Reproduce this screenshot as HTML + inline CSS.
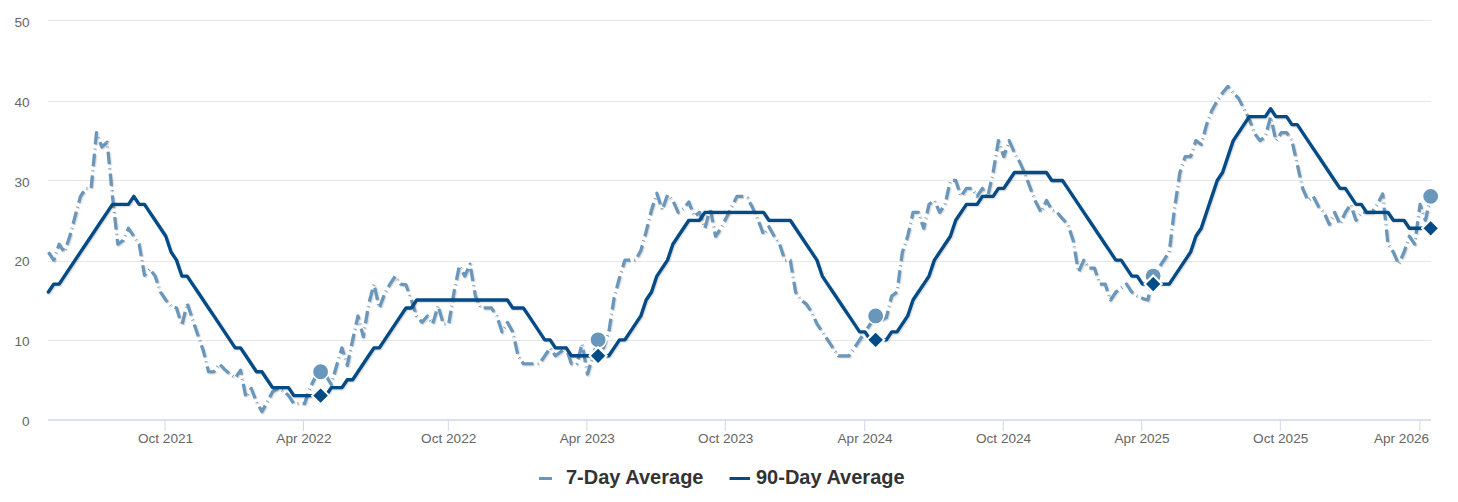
<!DOCTYPE html>
<html><head><meta charset="utf-8"><style>
html,body{margin:0;padding:0;background:#fff;width:1458px;height:502px;overflow:hidden;font-family:"Liberation Sans",sans-serif;}
svg{display:block;}
</style></head><body>

<svg width="1458" height="502" viewBox="0 0 1458 502">
<rect width="1458" height="502" fill="#ffffff"/>
<path d="M48 340.5 L1431 340.5" stroke="#e6e6e6" stroke-width="1" fill="none"/>
<path d="M48 261.5 L1431 261.5" stroke="#e6e6e6" stroke-width="1" fill="none"/>
<path d="M48 180.5 L1431 180.5" stroke="#e6e6e6" stroke-width="1" fill="none"/>
<path d="M48 101.5 L1431 101.5" stroke="#e6e6e6" stroke-width="1" fill="none"/>
<path d="M48 20.5 L1431 20.5" stroke="#e6e6e6" stroke-width="1" fill="none"/>
<text x="29.5" y="425.9" text-anchor="end" font-family="Liberation Sans" font-size="13.6" fill="#666666">0</text>
<text x="29.5" y="346.2" text-anchor="end" font-family="Liberation Sans" font-size="13.6" fill="#666666">10</text>
<text x="29.5" y="266.4" text-anchor="end" font-family="Liberation Sans" font-size="13.6" fill="#666666">20</text>
<text x="29.5" y="186.8" text-anchor="end" font-family="Liberation Sans" font-size="13.6" fill="#666666">30</text>
<text x="29.5" y="107.0" text-anchor="end" font-family="Liberation Sans" font-size="13.6" fill="#666666">40</text>
<text x="29.5" y="27.4" text-anchor="end" font-family="Liberation Sans" font-size="13.6" fill="#666666">50</text>
<path d="M48 420 L1431 420" stroke="#ccd6eb" stroke-width="1.6" fill="none"/>
<path d="M165.05 421 L165.05 431" stroke="#ccd6eb" stroke-width="1" fill="none"/>
<text x="165.5" y="443" text-anchor="middle" font-family="Liberation Sans" font-size="13.6" fill="#666666">Oct 2021</text>
<path d="M303.5 421 L303.5 431" stroke="#ccd6eb" stroke-width="1" fill="none"/>
<text x="303.9" y="443" text-anchor="middle" font-family="Liberation Sans" font-size="13.6" fill="#666666">Apr 2022</text>
<path d="M448.3 421 L448.3 431" stroke="#ccd6eb" stroke-width="1" fill="none"/>
<text x="448.7" y="443" text-anchor="middle" font-family="Liberation Sans" font-size="13.6" fill="#666666">Oct 2022</text>
<path d="M586.9 421 L586.9 431" stroke="#ccd6eb" stroke-width="1" fill="none"/>
<text x="587.3" y="443" text-anchor="middle" font-family="Liberation Sans" font-size="13.6" fill="#666666">Apr 2023</text>
<path d="M725.3 421 L725.3 431" stroke="#ccd6eb" stroke-width="1" fill="none"/>
<text x="725.7" y="443" text-anchor="middle" font-family="Liberation Sans" font-size="13.6" fill="#666666">Oct 2023</text>
<path d="M864.7 421 L864.7 431" stroke="#ccd6eb" stroke-width="1" fill="none"/>
<text x="865.1" y="443" text-anchor="middle" font-family="Liberation Sans" font-size="13.6" fill="#666666">Apr 2024</text>
<path d="M1003.2 421 L1003.2 431" stroke="#ccd6eb" stroke-width="1" fill="none"/>
<text x="1003.6" y="443" text-anchor="middle" font-family="Liberation Sans" font-size="13.6" fill="#666666">Oct 2024</text>
<path d="M1141.7 421 L1141.7 431" stroke="#ccd6eb" stroke-width="1" fill="none"/>
<text x="1142.1" y="443" text-anchor="middle" font-family="Liberation Sans" font-size="13.6" fill="#666666">Apr 2025</text>
<path d="M1280.3 421 L1280.3 431" stroke="#ccd6eb" stroke-width="1" fill="none"/>
<text x="1280.7" y="443" text-anchor="middle" font-family="Liberation Sans" font-size="13.6" fill="#666666">Oct 2025</text>
<path d="M1419.9 421 L1419.9 431" stroke="#ccd6eb" stroke-width="1" fill="none"/>
<text x="1401.5" y="443" text-anchor="middle" font-family="Liberation Sans" font-size="13.6" fill="#666666">Apr 2026</text>
<polyline points="48.40,252.18 53.74,260.15 59.07,244.21 64.41,252.18 69.75,236.24 75.08,216.32 80.42,196.39 85.76,188.42 91.10,188.42 96.43,132.63 101.77,146.98 107.11,142.19 112.44,196.39 117.78,244.21 123.12,240.23 128.45,228.27 133.79,236.24 139.13,244.21 144.47,275.29 149.80,268.92 155.14,276.09 160.48,292.03 165.81,300.00 171.15,306.38 176.49,307.97 181.82,325.50 187.16,303.19 192.50,319.13 197.84,335.07 203.17,350.21 208.51,371.73 213.85,371.73 219.18,363.76 224.52,369.34 229.86,374.12 235.19,378.11 240.53,370.14 245.87,397.23 251.21,388.47 256.54,402.02 261.88,411.58 267.22,402.02 272.55,391.66 277.89,388.47 283.23,390.86 288.56,395.64 293.90,403.61 299.24,403.61 304.58,403.61 309.91,387.67 315.25,377.31 320.59,371.73 325.92,375.72 331.26,384.48 336.60,365.35 341.93,347.82 347.27,365.35 352.61,339.85 357.95,315.94 363.28,336.66 368.62,303.99 373.96,284.06 379.29,307.97 384.63,293.62 389.97,284.06 395.30,276.09 400.64,284.06 405.98,284.86 411.32,300.00 416.65,315.94 421.99,322.32 427.33,315.94 432.66,323.91 438.00,305.58 443.34,323.91 448.67,323.91 454.01,292.03 459.35,265.73 464.69,276.09 470.02,264.13 475.36,296.01 480.70,307.97 486.03,307.97 491.37,307.97 496.71,315.94 502.04,331.88 507.38,322.32 512.72,331.88 518.06,355.79 523.39,363.76 528.73,363.76 534.07,363.76 539.40,363.76 544.74,355.79 550.08,347.82 555.41,355.79 560.75,351.81 566.09,347.82 571.43,363.76 576.76,363.76 582.10,343.84 587.44,374.12 592.77,355.79 598.11,339.85 603.45,347.82 608.78,331.88 614.12,297.61 619.46,277.68 624.80,260.15 630.13,260.15 635.47,260.15 640.81,250.59 646.14,231.46 651.48,209.94 656.82,193.20 662.15,209.94 667.49,194.80 672.83,200.38 678.17,212.33 683.50,208.35 688.84,201.97 694.18,216.32 699.51,212.33 704.85,228.27 710.19,208.35 715.52,236.24 720.86,228.27 726.20,217.91 731.54,206.75 736.87,196.39 742.21,196.39 747.55,197.98 752.88,208.35 758.22,220.30 763.56,234.65 768.89,226.68 774.23,236.24 779.57,244.21 784.91,260.15 790.24,260.15 795.58,292.03 800.92,300.00 806.25,303.99 811.59,311.96 816.93,323.91 822.26,331.88 827.60,339.85 832.94,347.82 838.28,355.79 843.61,355.79 848.95,355.79 854.29,347.82 859.62,339.85 864.96,331.88 870.30,323.91 875.63,315.94 880.97,319.93 886.31,317.53 891.65,296.01 896.98,292.03 902.32,252.18 907.66,236.24 912.99,212.33 918.33,212.33 923.67,228.27 929.00,204.36 934.34,200.38 939.68,212.33 945.02,204.36 950.35,180.45 955.69,180.45 961.03,196.39 966.36,188.42 971.70,188.42 977.04,196.39 982.37,188.42 987.71,196.39 993.05,172.48 998.39,140.60 1003.72,156.54 1009.06,140.60 1014.40,152.56 1019.73,162.12 1025.07,174.07 1030.41,188.42 1035.74,201.97 1041.08,212.33 1046.42,200.38 1051.76,209.94 1057.09,212.33 1062.43,218.71 1067.77,224.29 1073.10,240.23 1078.44,272.11 1083.78,260.15 1089.12,268.12 1094.45,268.12 1099.79,284.06 1105.13,284.06 1110.46,300.00 1115.80,292.03 1121.14,288.05 1126.47,284.06 1131.81,292.03 1137.15,296.01 1142.49,298.41 1147.82,300.00 1153.16,276.09 1158.50,268.12 1163.83,260.15 1169.17,252.18 1174.51,208.35 1179.84,172.48 1185.18,156.54 1190.52,156.54 1195.86,140.60 1201.19,144.59 1206.53,124.66 1211.87,110.31 1217.20,100.75 1222.54,92.78 1227.88,86.40 1233.21,92.78 1238.55,98.36 1243.89,108.72 1249.23,119.08 1254.56,133.43 1259.90,140.60 1265.24,136.62 1270.57,116.69 1275.91,140.60 1281.25,132.63 1286.58,132.63 1291.92,140.60 1297.26,164.51 1302.60,188.42 1307.93,200.38 1313.27,196.39 1318.61,206.75 1323.94,212.33 1329.28,224.29 1334.62,212.33 1339.95,224.29 1345.29,212.33 1350.63,204.36 1355.96,220.30 1361.30,212.33 1366.64,212.33 1371.98,212.33 1377.31,204.36 1382.65,194.00 1387.99,244.21 1393.32,252.18 1398.66,264.13 1404.00,252.18 1409.34,236.24 1414.67,244.21 1420.01,204.36 1425.35,220.30 1430.68,196.39" transform="translate(1,1)" fill="none" stroke="#000" stroke-opacity="0.05" stroke-width="5" stroke-dasharray="12.5,4.3,0.8,4.3" stroke-linejoin="round"/>
<polyline points="48.40,252.18 53.74,260.15 59.07,244.21 64.41,252.18 69.75,236.24 75.08,216.32 80.42,196.39 85.76,188.42 91.10,188.42 96.43,132.63 101.77,146.98 107.11,142.19 112.44,196.39 117.78,244.21 123.12,240.23 128.45,228.27 133.79,236.24 139.13,244.21 144.47,275.29 149.80,268.92 155.14,276.09 160.48,292.03 165.81,300.00 171.15,306.38 176.49,307.97 181.82,325.50 187.16,303.19 192.50,319.13 197.84,335.07 203.17,350.21 208.51,371.73 213.85,371.73 219.18,363.76 224.52,369.34 229.86,374.12 235.19,378.11 240.53,370.14 245.87,397.23 251.21,388.47 256.54,402.02 261.88,411.58 267.22,402.02 272.55,391.66 277.89,388.47 283.23,390.86 288.56,395.64 293.90,403.61 299.24,403.61 304.58,403.61 309.91,387.67 315.25,377.31 320.59,371.73 325.92,375.72 331.26,384.48 336.60,365.35 341.93,347.82 347.27,365.35 352.61,339.85 357.95,315.94 363.28,336.66 368.62,303.99 373.96,284.06 379.29,307.97 384.63,293.62 389.97,284.06 395.30,276.09 400.64,284.06 405.98,284.86 411.32,300.00 416.65,315.94 421.99,322.32 427.33,315.94 432.66,323.91 438.00,305.58 443.34,323.91 448.67,323.91 454.01,292.03 459.35,265.73 464.69,276.09 470.02,264.13 475.36,296.01 480.70,307.97 486.03,307.97 491.37,307.97 496.71,315.94 502.04,331.88 507.38,322.32 512.72,331.88 518.06,355.79 523.39,363.76 528.73,363.76 534.07,363.76 539.40,363.76 544.74,355.79 550.08,347.82 555.41,355.79 560.75,351.81 566.09,347.82 571.43,363.76 576.76,363.76 582.10,343.84 587.44,374.12 592.77,355.79 598.11,339.85 603.45,347.82 608.78,331.88 614.12,297.61 619.46,277.68 624.80,260.15 630.13,260.15 635.47,260.15 640.81,250.59 646.14,231.46 651.48,209.94 656.82,193.20 662.15,209.94 667.49,194.80 672.83,200.38 678.17,212.33 683.50,208.35 688.84,201.97 694.18,216.32 699.51,212.33 704.85,228.27 710.19,208.35 715.52,236.24 720.86,228.27 726.20,217.91 731.54,206.75 736.87,196.39 742.21,196.39 747.55,197.98 752.88,208.35 758.22,220.30 763.56,234.65 768.89,226.68 774.23,236.24 779.57,244.21 784.91,260.15 790.24,260.15 795.58,292.03 800.92,300.00 806.25,303.99 811.59,311.96 816.93,323.91 822.26,331.88 827.60,339.85 832.94,347.82 838.28,355.79 843.61,355.79 848.95,355.79 854.29,347.82 859.62,339.85 864.96,331.88 870.30,323.91 875.63,315.94 880.97,319.93 886.31,317.53 891.65,296.01 896.98,292.03 902.32,252.18 907.66,236.24 912.99,212.33 918.33,212.33 923.67,228.27 929.00,204.36 934.34,200.38 939.68,212.33 945.02,204.36 950.35,180.45 955.69,180.45 961.03,196.39 966.36,188.42 971.70,188.42 977.04,196.39 982.37,188.42 987.71,196.39 993.05,172.48 998.39,140.60 1003.72,156.54 1009.06,140.60 1014.40,152.56 1019.73,162.12 1025.07,174.07 1030.41,188.42 1035.74,201.97 1041.08,212.33 1046.42,200.38 1051.76,209.94 1057.09,212.33 1062.43,218.71 1067.77,224.29 1073.10,240.23 1078.44,272.11 1083.78,260.15 1089.12,268.12 1094.45,268.12 1099.79,284.06 1105.13,284.06 1110.46,300.00 1115.80,292.03 1121.14,288.05 1126.47,284.06 1131.81,292.03 1137.15,296.01 1142.49,298.41 1147.82,300.00 1153.16,276.09 1158.50,268.12 1163.83,260.15 1169.17,252.18 1174.51,208.35 1179.84,172.48 1185.18,156.54 1190.52,156.54 1195.86,140.60 1201.19,144.59 1206.53,124.66 1211.87,110.31 1217.20,100.75 1222.54,92.78 1227.88,86.40 1233.21,92.78 1238.55,98.36 1243.89,108.72 1249.23,119.08 1254.56,133.43 1259.90,140.60 1265.24,136.62 1270.57,116.69 1275.91,140.60 1281.25,132.63 1286.58,132.63 1291.92,140.60 1297.26,164.51 1302.60,188.42 1307.93,200.38 1313.27,196.39 1318.61,206.75 1323.94,212.33 1329.28,224.29 1334.62,212.33 1339.95,224.29 1345.29,212.33 1350.63,204.36 1355.96,220.30 1361.30,212.33 1366.64,212.33 1371.98,212.33 1377.31,204.36 1382.65,194.00 1387.99,244.21 1393.32,252.18 1398.66,264.13 1404.00,252.18 1409.34,236.24 1414.67,244.21 1420.01,204.36 1425.35,220.30 1430.68,196.39" transform="translate(1,1)" fill="none" stroke="#000" stroke-opacity="0.1" stroke-width="3" stroke-dasharray="12.5,4.3,0.8,4.3" stroke-linejoin="round"/>
<polyline points="48.40,252.18 53.74,260.15 59.07,244.21 64.41,252.18 69.75,236.24 75.08,216.32 80.42,196.39 85.76,188.42 91.10,188.42 96.43,132.63 101.77,146.98 107.11,142.19 112.44,196.39 117.78,244.21 123.12,240.23 128.45,228.27 133.79,236.24 139.13,244.21 144.47,275.29 149.80,268.92 155.14,276.09 160.48,292.03 165.81,300.00 171.15,306.38 176.49,307.97 181.82,325.50 187.16,303.19 192.50,319.13 197.84,335.07 203.17,350.21 208.51,371.73 213.85,371.73 219.18,363.76 224.52,369.34 229.86,374.12 235.19,378.11 240.53,370.14 245.87,397.23 251.21,388.47 256.54,402.02 261.88,411.58 267.22,402.02 272.55,391.66 277.89,388.47 283.23,390.86 288.56,395.64 293.90,403.61 299.24,403.61 304.58,403.61 309.91,387.67 315.25,377.31 320.59,371.73 325.92,375.72 331.26,384.48 336.60,365.35 341.93,347.82 347.27,365.35 352.61,339.85 357.95,315.94 363.28,336.66 368.62,303.99 373.96,284.06 379.29,307.97 384.63,293.62 389.97,284.06 395.30,276.09 400.64,284.06 405.98,284.86 411.32,300.00 416.65,315.94 421.99,322.32 427.33,315.94 432.66,323.91 438.00,305.58 443.34,323.91 448.67,323.91 454.01,292.03 459.35,265.73 464.69,276.09 470.02,264.13 475.36,296.01 480.70,307.97 486.03,307.97 491.37,307.97 496.71,315.94 502.04,331.88 507.38,322.32 512.72,331.88 518.06,355.79 523.39,363.76 528.73,363.76 534.07,363.76 539.40,363.76 544.74,355.79 550.08,347.82 555.41,355.79 560.75,351.81 566.09,347.82 571.43,363.76 576.76,363.76 582.10,343.84 587.44,374.12 592.77,355.79 598.11,339.85 603.45,347.82 608.78,331.88 614.12,297.61 619.46,277.68 624.80,260.15 630.13,260.15 635.47,260.15 640.81,250.59 646.14,231.46 651.48,209.94 656.82,193.20 662.15,209.94 667.49,194.80 672.83,200.38 678.17,212.33 683.50,208.35 688.84,201.97 694.18,216.32 699.51,212.33 704.85,228.27 710.19,208.35 715.52,236.24 720.86,228.27 726.20,217.91 731.54,206.75 736.87,196.39 742.21,196.39 747.55,197.98 752.88,208.35 758.22,220.30 763.56,234.65 768.89,226.68 774.23,236.24 779.57,244.21 784.91,260.15 790.24,260.15 795.58,292.03 800.92,300.00 806.25,303.99 811.59,311.96 816.93,323.91 822.26,331.88 827.60,339.85 832.94,347.82 838.28,355.79 843.61,355.79 848.95,355.79 854.29,347.82 859.62,339.85 864.96,331.88 870.30,323.91 875.63,315.94 880.97,319.93 886.31,317.53 891.65,296.01 896.98,292.03 902.32,252.18 907.66,236.24 912.99,212.33 918.33,212.33 923.67,228.27 929.00,204.36 934.34,200.38 939.68,212.33 945.02,204.36 950.35,180.45 955.69,180.45 961.03,196.39 966.36,188.42 971.70,188.42 977.04,196.39 982.37,188.42 987.71,196.39 993.05,172.48 998.39,140.60 1003.72,156.54 1009.06,140.60 1014.40,152.56 1019.73,162.12 1025.07,174.07 1030.41,188.42 1035.74,201.97 1041.08,212.33 1046.42,200.38 1051.76,209.94 1057.09,212.33 1062.43,218.71 1067.77,224.29 1073.10,240.23 1078.44,272.11 1083.78,260.15 1089.12,268.12 1094.45,268.12 1099.79,284.06 1105.13,284.06 1110.46,300.00 1115.80,292.03 1121.14,288.05 1126.47,284.06 1131.81,292.03 1137.15,296.01 1142.49,298.41 1147.82,300.00 1153.16,276.09 1158.50,268.12 1163.83,260.15 1169.17,252.18 1174.51,208.35 1179.84,172.48 1185.18,156.54 1190.52,156.54 1195.86,140.60 1201.19,144.59 1206.53,124.66 1211.87,110.31 1217.20,100.75 1222.54,92.78 1227.88,86.40 1233.21,92.78 1238.55,98.36 1243.89,108.72 1249.23,119.08 1254.56,133.43 1259.90,140.60 1265.24,136.62 1270.57,116.69 1275.91,140.60 1281.25,132.63 1286.58,132.63 1291.92,140.60 1297.26,164.51 1302.60,188.42 1307.93,200.38 1313.27,196.39 1318.61,206.75 1323.94,212.33 1329.28,224.29 1334.62,212.33 1339.95,224.29 1345.29,212.33 1350.63,204.36 1355.96,220.30 1361.30,212.33 1366.64,212.33 1371.98,212.33 1377.31,204.36 1382.65,194.00 1387.99,244.21 1393.32,252.18 1398.66,264.13 1404.00,252.18 1409.34,236.24 1414.67,244.21 1420.01,204.36 1425.35,220.30 1430.68,196.39" transform="translate(1,1)" fill="none" stroke="#000" stroke-opacity="0.15" stroke-width="1" stroke-dasharray="12.5,4.3,0.8,4.3" stroke-linejoin="round"/>
<polyline points="48.40,252.18 53.74,260.15 59.07,244.21 64.41,252.18 69.75,236.24 75.08,216.32 80.42,196.39 85.76,188.42 91.10,188.42 96.43,132.63 101.77,146.98 107.11,142.19 112.44,196.39 117.78,244.21 123.12,240.23 128.45,228.27 133.79,236.24 139.13,244.21 144.47,275.29 149.80,268.92 155.14,276.09 160.48,292.03 165.81,300.00 171.15,306.38 176.49,307.97 181.82,325.50 187.16,303.19 192.50,319.13 197.84,335.07 203.17,350.21 208.51,371.73 213.85,371.73 219.18,363.76 224.52,369.34 229.86,374.12 235.19,378.11 240.53,370.14 245.87,397.23 251.21,388.47 256.54,402.02 261.88,411.58 267.22,402.02 272.55,391.66 277.89,388.47 283.23,390.86 288.56,395.64 293.90,403.61 299.24,403.61 304.58,403.61 309.91,387.67 315.25,377.31 320.59,371.73 325.92,375.72 331.26,384.48 336.60,365.35 341.93,347.82 347.27,365.35 352.61,339.85 357.95,315.94 363.28,336.66 368.62,303.99 373.96,284.06 379.29,307.97 384.63,293.62 389.97,284.06 395.30,276.09 400.64,284.06 405.98,284.86 411.32,300.00 416.65,315.94 421.99,322.32 427.33,315.94 432.66,323.91 438.00,305.58 443.34,323.91 448.67,323.91 454.01,292.03 459.35,265.73 464.69,276.09 470.02,264.13 475.36,296.01 480.70,307.97 486.03,307.97 491.37,307.97 496.71,315.94 502.04,331.88 507.38,322.32 512.72,331.88 518.06,355.79 523.39,363.76 528.73,363.76 534.07,363.76 539.40,363.76 544.74,355.79 550.08,347.82 555.41,355.79 560.75,351.81 566.09,347.82 571.43,363.76 576.76,363.76 582.10,343.84 587.44,374.12 592.77,355.79 598.11,339.85 603.45,347.82 608.78,331.88 614.12,297.61 619.46,277.68 624.80,260.15 630.13,260.15 635.47,260.15 640.81,250.59 646.14,231.46 651.48,209.94 656.82,193.20 662.15,209.94 667.49,194.80 672.83,200.38 678.17,212.33 683.50,208.35 688.84,201.97 694.18,216.32 699.51,212.33 704.85,228.27 710.19,208.35 715.52,236.24 720.86,228.27 726.20,217.91 731.54,206.75 736.87,196.39 742.21,196.39 747.55,197.98 752.88,208.35 758.22,220.30 763.56,234.65 768.89,226.68 774.23,236.24 779.57,244.21 784.91,260.15 790.24,260.15 795.58,292.03 800.92,300.00 806.25,303.99 811.59,311.96 816.93,323.91 822.26,331.88 827.60,339.85 832.94,347.82 838.28,355.79 843.61,355.79 848.95,355.79 854.29,347.82 859.62,339.85 864.96,331.88 870.30,323.91 875.63,315.94 880.97,319.93 886.31,317.53 891.65,296.01 896.98,292.03 902.32,252.18 907.66,236.24 912.99,212.33 918.33,212.33 923.67,228.27 929.00,204.36 934.34,200.38 939.68,212.33 945.02,204.36 950.35,180.45 955.69,180.45 961.03,196.39 966.36,188.42 971.70,188.42 977.04,196.39 982.37,188.42 987.71,196.39 993.05,172.48 998.39,140.60 1003.72,156.54 1009.06,140.60 1014.40,152.56 1019.73,162.12 1025.07,174.07 1030.41,188.42 1035.74,201.97 1041.08,212.33 1046.42,200.38 1051.76,209.94 1057.09,212.33 1062.43,218.71 1067.77,224.29 1073.10,240.23 1078.44,272.11 1083.78,260.15 1089.12,268.12 1094.45,268.12 1099.79,284.06 1105.13,284.06 1110.46,300.00 1115.80,292.03 1121.14,288.05 1126.47,284.06 1131.81,292.03 1137.15,296.01 1142.49,298.41 1147.82,300.00 1153.16,276.09 1158.50,268.12 1163.83,260.15 1169.17,252.18 1174.51,208.35 1179.84,172.48 1185.18,156.54 1190.52,156.54 1195.86,140.60 1201.19,144.59 1206.53,124.66 1211.87,110.31 1217.20,100.75 1222.54,92.78 1227.88,86.40 1233.21,92.78 1238.55,98.36 1243.89,108.72 1249.23,119.08 1254.56,133.43 1259.90,140.60 1265.24,136.62 1270.57,116.69 1275.91,140.60 1281.25,132.63 1286.58,132.63 1291.92,140.60 1297.26,164.51 1302.60,188.42 1307.93,200.38 1313.27,196.39 1318.61,206.75 1323.94,212.33 1329.28,224.29 1334.62,212.33 1339.95,224.29 1345.29,212.33 1350.63,204.36 1355.96,220.30 1361.30,212.33 1366.64,212.33 1371.98,212.33 1377.31,204.36 1382.65,194.00 1387.99,244.21 1393.32,252.18 1398.66,264.13 1404.00,252.18 1409.34,236.24 1414.67,244.21 1420.01,204.36 1425.35,220.30 1430.68,196.39" fill="none" stroke="#6897bb" stroke-width="3.2" stroke-dasharray="12.5,4.3,0.8,4.3" stroke-linejoin="round"/>
<polyline points="48.40,292.03 53.74,284.06 59.07,284.06 64.41,276.09 69.75,268.12 75.08,260.15 80.42,252.18 85.76,244.21 91.10,236.24 96.43,228.27 101.77,220.30 107.11,212.33 112.44,204.36 117.78,204.36 123.12,204.36 128.45,204.36 133.79,196.39 139.13,204.36 144.47,204.36 149.80,212.33 155.14,220.30 160.48,228.27 165.81,236.24 171.15,252.18 176.49,260.15 181.82,276.09 187.16,276.09 192.50,284.06 197.84,292.03 203.17,300.00 208.51,307.97 213.85,315.94 219.18,323.91 224.52,331.88 229.86,339.85 235.19,347.82 240.53,347.82 245.87,355.79 251.21,363.76 256.54,371.73 261.88,371.73 267.22,379.70 272.55,387.67 277.89,387.67 283.23,387.67 288.56,387.67 293.90,395.64 299.24,395.64 304.58,395.64 309.91,395.64 315.25,395.64 320.59,395.64 325.92,395.64 331.26,387.67 336.60,387.67 341.93,387.67 347.27,379.70 352.61,379.70 357.95,371.73 363.28,363.76 368.62,355.79 373.96,347.82 379.29,347.82 384.63,339.85 389.97,331.88 395.30,323.91 400.64,315.94 405.98,307.97 411.32,307.97 416.65,300.00 421.99,300.00 427.33,300.00 432.66,300.00 438.00,300.00 443.34,300.00 448.67,300.00 454.01,300.00 459.35,300.00 464.69,300.00 470.02,300.00 475.36,300.00 480.70,300.00 486.03,300.00 491.37,300.00 496.71,300.00 502.04,300.00 507.38,300.00 512.72,307.97 518.06,307.97 523.39,307.97 528.73,315.94 534.07,323.91 539.40,331.88 544.74,339.85 550.08,339.85 555.41,347.82 560.75,347.82 566.09,347.82 571.43,355.79 576.76,355.79 582.10,355.79 587.44,355.79 592.77,355.79 598.11,355.79 603.45,355.79 608.78,355.79 614.12,347.82 619.46,339.85 624.80,339.85 630.13,331.88 635.47,323.91 640.81,315.94 646.14,300.00 651.48,292.03 656.82,276.09 662.15,268.12 667.49,260.15 672.83,244.21 678.17,236.24 683.50,228.27 688.84,220.30 694.18,220.30 699.51,220.30 704.85,212.33 710.19,212.33 715.52,212.33 720.86,212.33 726.20,212.33 731.54,212.33 736.87,212.33 742.21,212.33 747.55,212.33 752.88,212.33 758.22,212.33 763.56,212.33 768.89,220.30 774.23,220.30 779.57,220.30 784.91,220.30 790.24,220.30 795.58,228.27 800.92,236.24 806.25,244.21 811.59,252.18 816.93,260.15 822.26,276.09 827.60,284.06 832.94,292.03 838.28,300.00 843.61,307.97 848.95,315.94 854.29,323.91 859.62,331.88 864.96,331.88 870.30,339.85 875.63,339.85 880.97,339.85 886.31,339.85 891.65,331.88 896.98,331.88 902.32,323.91 907.66,315.94 912.99,300.00 918.33,292.03 923.67,284.06 929.00,276.09 934.34,260.15 939.68,252.18 945.02,244.21 950.35,236.24 955.69,220.30 961.03,212.33 966.36,204.36 971.70,204.36 977.04,204.36 982.37,196.39 987.71,196.39 993.05,196.39 998.39,188.42 1003.72,188.42 1009.06,180.45 1014.40,172.48 1019.73,172.48 1025.07,172.48 1030.41,172.48 1035.74,172.48 1041.08,172.48 1046.42,172.48 1051.76,180.45 1057.09,180.45 1062.43,180.45 1067.77,188.42 1073.10,196.39 1078.44,204.36 1083.78,212.33 1089.12,220.30 1094.45,228.27 1099.79,236.24 1105.13,244.21 1110.46,252.18 1115.80,260.15 1121.14,260.15 1126.47,268.12 1131.81,276.09 1137.15,276.09 1142.49,284.06 1147.82,284.06 1153.16,284.06 1158.50,284.06 1163.83,284.06 1169.17,284.06 1174.51,276.09 1179.84,268.12 1185.18,260.15 1190.52,252.18 1195.86,236.24 1201.19,228.27 1206.53,212.33 1211.87,196.39 1217.20,180.45 1222.54,172.48 1227.88,156.54 1233.21,140.60 1238.55,132.63 1243.89,124.66 1249.23,116.69 1254.56,116.69 1259.90,116.69 1265.24,116.69 1270.57,108.72 1275.91,116.69 1281.25,116.69 1286.58,116.69 1291.92,124.66 1297.26,124.66 1302.60,132.63 1307.93,140.60 1313.27,148.57 1318.61,156.54 1323.94,164.51 1329.28,172.48 1334.62,180.45 1339.95,188.42 1345.29,188.42 1350.63,196.39 1355.96,204.36 1361.30,204.36 1366.64,212.33 1371.98,212.33 1377.31,212.33 1382.65,212.33 1387.99,212.33 1393.32,220.30 1398.66,220.30 1404.00,220.30 1409.34,228.27 1414.67,228.27 1420.01,228.27 1425.35,228.27 1430.68,228.27" transform="translate(1,1)" fill="none" stroke="#000" stroke-opacity="0.05" stroke-width="5" stroke-linecap="round" stroke-linejoin="round"/>
<polyline points="48.40,292.03 53.74,284.06 59.07,284.06 64.41,276.09 69.75,268.12 75.08,260.15 80.42,252.18 85.76,244.21 91.10,236.24 96.43,228.27 101.77,220.30 107.11,212.33 112.44,204.36 117.78,204.36 123.12,204.36 128.45,204.36 133.79,196.39 139.13,204.36 144.47,204.36 149.80,212.33 155.14,220.30 160.48,228.27 165.81,236.24 171.15,252.18 176.49,260.15 181.82,276.09 187.16,276.09 192.50,284.06 197.84,292.03 203.17,300.00 208.51,307.97 213.85,315.94 219.18,323.91 224.52,331.88 229.86,339.85 235.19,347.82 240.53,347.82 245.87,355.79 251.21,363.76 256.54,371.73 261.88,371.73 267.22,379.70 272.55,387.67 277.89,387.67 283.23,387.67 288.56,387.67 293.90,395.64 299.24,395.64 304.58,395.64 309.91,395.64 315.25,395.64 320.59,395.64 325.92,395.64 331.26,387.67 336.60,387.67 341.93,387.67 347.27,379.70 352.61,379.70 357.95,371.73 363.28,363.76 368.62,355.79 373.96,347.82 379.29,347.82 384.63,339.85 389.97,331.88 395.30,323.91 400.64,315.94 405.98,307.97 411.32,307.97 416.65,300.00 421.99,300.00 427.33,300.00 432.66,300.00 438.00,300.00 443.34,300.00 448.67,300.00 454.01,300.00 459.35,300.00 464.69,300.00 470.02,300.00 475.36,300.00 480.70,300.00 486.03,300.00 491.37,300.00 496.71,300.00 502.04,300.00 507.38,300.00 512.72,307.97 518.06,307.97 523.39,307.97 528.73,315.94 534.07,323.91 539.40,331.88 544.74,339.85 550.08,339.85 555.41,347.82 560.75,347.82 566.09,347.82 571.43,355.79 576.76,355.79 582.10,355.79 587.44,355.79 592.77,355.79 598.11,355.79 603.45,355.79 608.78,355.79 614.12,347.82 619.46,339.85 624.80,339.85 630.13,331.88 635.47,323.91 640.81,315.94 646.14,300.00 651.48,292.03 656.82,276.09 662.15,268.12 667.49,260.15 672.83,244.21 678.17,236.24 683.50,228.27 688.84,220.30 694.18,220.30 699.51,220.30 704.85,212.33 710.19,212.33 715.52,212.33 720.86,212.33 726.20,212.33 731.54,212.33 736.87,212.33 742.21,212.33 747.55,212.33 752.88,212.33 758.22,212.33 763.56,212.33 768.89,220.30 774.23,220.30 779.57,220.30 784.91,220.30 790.24,220.30 795.58,228.27 800.92,236.24 806.25,244.21 811.59,252.18 816.93,260.15 822.26,276.09 827.60,284.06 832.94,292.03 838.28,300.00 843.61,307.97 848.95,315.94 854.29,323.91 859.62,331.88 864.96,331.88 870.30,339.85 875.63,339.85 880.97,339.85 886.31,339.85 891.65,331.88 896.98,331.88 902.32,323.91 907.66,315.94 912.99,300.00 918.33,292.03 923.67,284.06 929.00,276.09 934.34,260.15 939.68,252.18 945.02,244.21 950.35,236.24 955.69,220.30 961.03,212.33 966.36,204.36 971.70,204.36 977.04,204.36 982.37,196.39 987.71,196.39 993.05,196.39 998.39,188.42 1003.72,188.42 1009.06,180.45 1014.40,172.48 1019.73,172.48 1025.07,172.48 1030.41,172.48 1035.74,172.48 1041.08,172.48 1046.42,172.48 1051.76,180.45 1057.09,180.45 1062.43,180.45 1067.77,188.42 1073.10,196.39 1078.44,204.36 1083.78,212.33 1089.12,220.30 1094.45,228.27 1099.79,236.24 1105.13,244.21 1110.46,252.18 1115.80,260.15 1121.14,260.15 1126.47,268.12 1131.81,276.09 1137.15,276.09 1142.49,284.06 1147.82,284.06 1153.16,284.06 1158.50,284.06 1163.83,284.06 1169.17,284.06 1174.51,276.09 1179.84,268.12 1185.18,260.15 1190.52,252.18 1195.86,236.24 1201.19,228.27 1206.53,212.33 1211.87,196.39 1217.20,180.45 1222.54,172.48 1227.88,156.54 1233.21,140.60 1238.55,132.63 1243.89,124.66 1249.23,116.69 1254.56,116.69 1259.90,116.69 1265.24,116.69 1270.57,108.72 1275.91,116.69 1281.25,116.69 1286.58,116.69 1291.92,124.66 1297.26,124.66 1302.60,132.63 1307.93,140.60 1313.27,148.57 1318.61,156.54 1323.94,164.51 1329.28,172.48 1334.62,180.45 1339.95,188.42 1345.29,188.42 1350.63,196.39 1355.96,204.36 1361.30,204.36 1366.64,212.33 1371.98,212.33 1377.31,212.33 1382.65,212.33 1387.99,212.33 1393.32,220.30 1398.66,220.30 1404.00,220.30 1409.34,228.27 1414.67,228.27 1420.01,228.27 1425.35,228.27 1430.68,228.27" transform="translate(1,1)" fill="none" stroke="#000" stroke-opacity="0.1" stroke-width="3" stroke-linecap="round" stroke-linejoin="round"/>
<polyline points="48.40,292.03 53.74,284.06 59.07,284.06 64.41,276.09 69.75,268.12 75.08,260.15 80.42,252.18 85.76,244.21 91.10,236.24 96.43,228.27 101.77,220.30 107.11,212.33 112.44,204.36 117.78,204.36 123.12,204.36 128.45,204.36 133.79,196.39 139.13,204.36 144.47,204.36 149.80,212.33 155.14,220.30 160.48,228.27 165.81,236.24 171.15,252.18 176.49,260.15 181.82,276.09 187.16,276.09 192.50,284.06 197.84,292.03 203.17,300.00 208.51,307.97 213.85,315.94 219.18,323.91 224.52,331.88 229.86,339.85 235.19,347.82 240.53,347.82 245.87,355.79 251.21,363.76 256.54,371.73 261.88,371.73 267.22,379.70 272.55,387.67 277.89,387.67 283.23,387.67 288.56,387.67 293.90,395.64 299.24,395.64 304.58,395.64 309.91,395.64 315.25,395.64 320.59,395.64 325.92,395.64 331.26,387.67 336.60,387.67 341.93,387.67 347.27,379.70 352.61,379.70 357.95,371.73 363.28,363.76 368.62,355.79 373.96,347.82 379.29,347.82 384.63,339.85 389.97,331.88 395.30,323.91 400.64,315.94 405.98,307.97 411.32,307.97 416.65,300.00 421.99,300.00 427.33,300.00 432.66,300.00 438.00,300.00 443.34,300.00 448.67,300.00 454.01,300.00 459.35,300.00 464.69,300.00 470.02,300.00 475.36,300.00 480.70,300.00 486.03,300.00 491.37,300.00 496.71,300.00 502.04,300.00 507.38,300.00 512.72,307.97 518.06,307.97 523.39,307.97 528.73,315.94 534.07,323.91 539.40,331.88 544.74,339.85 550.08,339.85 555.41,347.82 560.75,347.82 566.09,347.82 571.43,355.79 576.76,355.79 582.10,355.79 587.44,355.79 592.77,355.79 598.11,355.79 603.45,355.79 608.78,355.79 614.12,347.82 619.46,339.85 624.80,339.85 630.13,331.88 635.47,323.91 640.81,315.94 646.14,300.00 651.48,292.03 656.82,276.09 662.15,268.12 667.49,260.15 672.83,244.21 678.17,236.24 683.50,228.27 688.84,220.30 694.18,220.30 699.51,220.30 704.85,212.33 710.19,212.33 715.52,212.33 720.86,212.33 726.20,212.33 731.54,212.33 736.87,212.33 742.21,212.33 747.55,212.33 752.88,212.33 758.22,212.33 763.56,212.33 768.89,220.30 774.23,220.30 779.57,220.30 784.91,220.30 790.24,220.30 795.58,228.27 800.92,236.24 806.25,244.21 811.59,252.18 816.93,260.15 822.26,276.09 827.60,284.06 832.94,292.03 838.28,300.00 843.61,307.97 848.95,315.94 854.29,323.91 859.62,331.88 864.96,331.88 870.30,339.85 875.63,339.85 880.97,339.85 886.31,339.85 891.65,331.88 896.98,331.88 902.32,323.91 907.66,315.94 912.99,300.00 918.33,292.03 923.67,284.06 929.00,276.09 934.34,260.15 939.68,252.18 945.02,244.21 950.35,236.24 955.69,220.30 961.03,212.33 966.36,204.36 971.70,204.36 977.04,204.36 982.37,196.39 987.71,196.39 993.05,196.39 998.39,188.42 1003.72,188.42 1009.06,180.45 1014.40,172.48 1019.73,172.48 1025.07,172.48 1030.41,172.48 1035.74,172.48 1041.08,172.48 1046.42,172.48 1051.76,180.45 1057.09,180.45 1062.43,180.45 1067.77,188.42 1073.10,196.39 1078.44,204.36 1083.78,212.33 1089.12,220.30 1094.45,228.27 1099.79,236.24 1105.13,244.21 1110.46,252.18 1115.80,260.15 1121.14,260.15 1126.47,268.12 1131.81,276.09 1137.15,276.09 1142.49,284.06 1147.82,284.06 1153.16,284.06 1158.50,284.06 1163.83,284.06 1169.17,284.06 1174.51,276.09 1179.84,268.12 1185.18,260.15 1190.52,252.18 1195.86,236.24 1201.19,228.27 1206.53,212.33 1211.87,196.39 1217.20,180.45 1222.54,172.48 1227.88,156.54 1233.21,140.60 1238.55,132.63 1243.89,124.66 1249.23,116.69 1254.56,116.69 1259.90,116.69 1265.24,116.69 1270.57,108.72 1275.91,116.69 1281.25,116.69 1286.58,116.69 1291.92,124.66 1297.26,124.66 1302.60,132.63 1307.93,140.60 1313.27,148.57 1318.61,156.54 1323.94,164.51 1329.28,172.48 1334.62,180.45 1339.95,188.42 1345.29,188.42 1350.63,196.39 1355.96,204.36 1361.30,204.36 1366.64,212.33 1371.98,212.33 1377.31,212.33 1382.65,212.33 1387.99,212.33 1393.32,220.30 1398.66,220.30 1404.00,220.30 1409.34,228.27 1414.67,228.27 1420.01,228.27 1425.35,228.27 1430.68,228.27" transform="translate(1,1)" fill="none" stroke="#000" stroke-opacity="0.15" stroke-width="1" stroke-linecap="round" stroke-linejoin="round"/>
<polyline points="48.40,292.03 53.74,284.06 59.07,284.06 64.41,276.09 69.75,268.12 75.08,260.15 80.42,252.18 85.76,244.21 91.10,236.24 96.43,228.27 101.77,220.30 107.11,212.33 112.44,204.36 117.78,204.36 123.12,204.36 128.45,204.36 133.79,196.39 139.13,204.36 144.47,204.36 149.80,212.33 155.14,220.30 160.48,228.27 165.81,236.24 171.15,252.18 176.49,260.15 181.82,276.09 187.16,276.09 192.50,284.06 197.84,292.03 203.17,300.00 208.51,307.97 213.85,315.94 219.18,323.91 224.52,331.88 229.86,339.85 235.19,347.82 240.53,347.82 245.87,355.79 251.21,363.76 256.54,371.73 261.88,371.73 267.22,379.70 272.55,387.67 277.89,387.67 283.23,387.67 288.56,387.67 293.90,395.64 299.24,395.64 304.58,395.64 309.91,395.64 315.25,395.64 320.59,395.64 325.92,395.64 331.26,387.67 336.60,387.67 341.93,387.67 347.27,379.70 352.61,379.70 357.95,371.73 363.28,363.76 368.62,355.79 373.96,347.82 379.29,347.82 384.63,339.85 389.97,331.88 395.30,323.91 400.64,315.94 405.98,307.97 411.32,307.97 416.65,300.00 421.99,300.00 427.33,300.00 432.66,300.00 438.00,300.00 443.34,300.00 448.67,300.00 454.01,300.00 459.35,300.00 464.69,300.00 470.02,300.00 475.36,300.00 480.70,300.00 486.03,300.00 491.37,300.00 496.71,300.00 502.04,300.00 507.38,300.00 512.72,307.97 518.06,307.97 523.39,307.97 528.73,315.94 534.07,323.91 539.40,331.88 544.74,339.85 550.08,339.85 555.41,347.82 560.75,347.82 566.09,347.82 571.43,355.79 576.76,355.79 582.10,355.79 587.44,355.79 592.77,355.79 598.11,355.79 603.45,355.79 608.78,355.79 614.12,347.82 619.46,339.85 624.80,339.85 630.13,331.88 635.47,323.91 640.81,315.94 646.14,300.00 651.48,292.03 656.82,276.09 662.15,268.12 667.49,260.15 672.83,244.21 678.17,236.24 683.50,228.27 688.84,220.30 694.18,220.30 699.51,220.30 704.85,212.33 710.19,212.33 715.52,212.33 720.86,212.33 726.20,212.33 731.54,212.33 736.87,212.33 742.21,212.33 747.55,212.33 752.88,212.33 758.22,212.33 763.56,212.33 768.89,220.30 774.23,220.30 779.57,220.30 784.91,220.30 790.24,220.30 795.58,228.27 800.92,236.24 806.25,244.21 811.59,252.18 816.93,260.15 822.26,276.09 827.60,284.06 832.94,292.03 838.28,300.00 843.61,307.97 848.95,315.94 854.29,323.91 859.62,331.88 864.96,331.88 870.30,339.85 875.63,339.85 880.97,339.85 886.31,339.85 891.65,331.88 896.98,331.88 902.32,323.91 907.66,315.94 912.99,300.00 918.33,292.03 923.67,284.06 929.00,276.09 934.34,260.15 939.68,252.18 945.02,244.21 950.35,236.24 955.69,220.30 961.03,212.33 966.36,204.36 971.70,204.36 977.04,204.36 982.37,196.39 987.71,196.39 993.05,196.39 998.39,188.42 1003.72,188.42 1009.06,180.45 1014.40,172.48 1019.73,172.48 1025.07,172.48 1030.41,172.48 1035.74,172.48 1041.08,172.48 1046.42,172.48 1051.76,180.45 1057.09,180.45 1062.43,180.45 1067.77,188.42 1073.10,196.39 1078.44,204.36 1083.78,212.33 1089.12,220.30 1094.45,228.27 1099.79,236.24 1105.13,244.21 1110.46,252.18 1115.80,260.15 1121.14,260.15 1126.47,268.12 1131.81,276.09 1137.15,276.09 1142.49,284.06 1147.82,284.06 1153.16,284.06 1158.50,284.06 1163.83,284.06 1169.17,284.06 1174.51,276.09 1179.84,268.12 1185.18,260.15 1190.52,252.18 1195.86,236.24 1201.19,228.27 1206.53,212.33 1211.87,196.39 1217.20,180.45 1222.54,172.48 1227.88,156.54 1233.21,140.60 1238.55,132.63 1243.89,124.66 1249.23,116.69 1254.56,116.69 1259.90,116.69 1265.24,116.69 1270.57,108.72 1275.91,116.69 1281.25,116.69 1286.58,116.69 1291.92,124.66 1297.26,124.66 1302.60,132.63 1307.93,140.60 1313.27,148.57 1318.61,156.54 1323.94,164.51 1329.28,172.48 1334.62,180.45 1339.95,188.42 1345.29,188.42 1350.63,196.39 1355.96,204.36 1361.30,204.36 1366.64,212.33 1371.98,212.33 1377.31,212.33 1382.65,212.33 1387.99,212.33 1393.32,220.30 1398.66,220.30 1404.00,220.30 1409.34,228.27 1414.67,228.27 1420.01,228.27 1425.35,228.27 1430.68,228.27" fill="none" stroke="#034b86" stroke-width="3.35" stroke-linecap="round" stroke-linejoin="round"/>
<circle cx="320.59" cy="371.73" r="8.2" fill="#6897bb" stroke="#ffffff" stroke-width="1.6"/>
<path d="M320.59 387.04 L329.19 395.64 L320.59 404.24 L311.99 395.64 Z" fill="#034b86" stroke="#ffffff" stroke-width="2"/>
<circle cx="598.11" cy="339.85" r="8.2" fill="#6897bb" stroke="#ffffff" stroke-width="1.6"/>
<path d="M598.11 347.19 L606.71 355.79 L598.11 364.39 L589.51 355.79 Z" fill="#034b86" stroke="#ffffff" stroke-width="2"/>
<circle cx="875.63" cy="315.94" r="8.2" fill="#6897bb" stroke="#ffffff" stroke-width="1.6"/>
<path d="M875.63 331.25 L884.24 339.85 L875.63 348.45 L867.03 339.85 Z" fill="#034b86" stroke="#ffffff" stroke-width="2"/>
<circle cx="1153.16" cy="276.09" r="8.2" fill="#6897bb" stroke="#ffffff" stroke-width="1.6"/>
<path d="M1153.16 275.46 L1161.76 284.06 L1153.16 292.66 L1144.56 284.06 Z" fill="#034b86" stroke="#ffffff" stroke-width="2"/>
<circle cx="1430.68" cy="196.39" r="8.2" fill="#6897bb" stroke="#ffffff" stroke-width="1.6"/>
<path d="M1430.68 219.67 L1439.28 228.27 L1430.68 236.87 L1422.08 228.27 Z" fill="#034b86" stroke="#ffffff" stroke-width="2"/>
<path d="M539 478.5 L559 478.5" stroke="#6897bb" stroke-width="3" stroke-dasharray="13,20" fill="none"/>
<text x="566" y="484" font-family="Liberation Sans" font-weight="bold" font-size="20" fill="#333333">7-Day Average</text>
<path d="M729.5 478.5 L750 478.5" stroke="#034b86" stroke-width="3" fill="none"/>
<text x="756" y="484" font-family="Liberation Sans" font-weight="bold" font-size="20" fill="#333333">90-Day Average</text>
</svg>
</body></html>
